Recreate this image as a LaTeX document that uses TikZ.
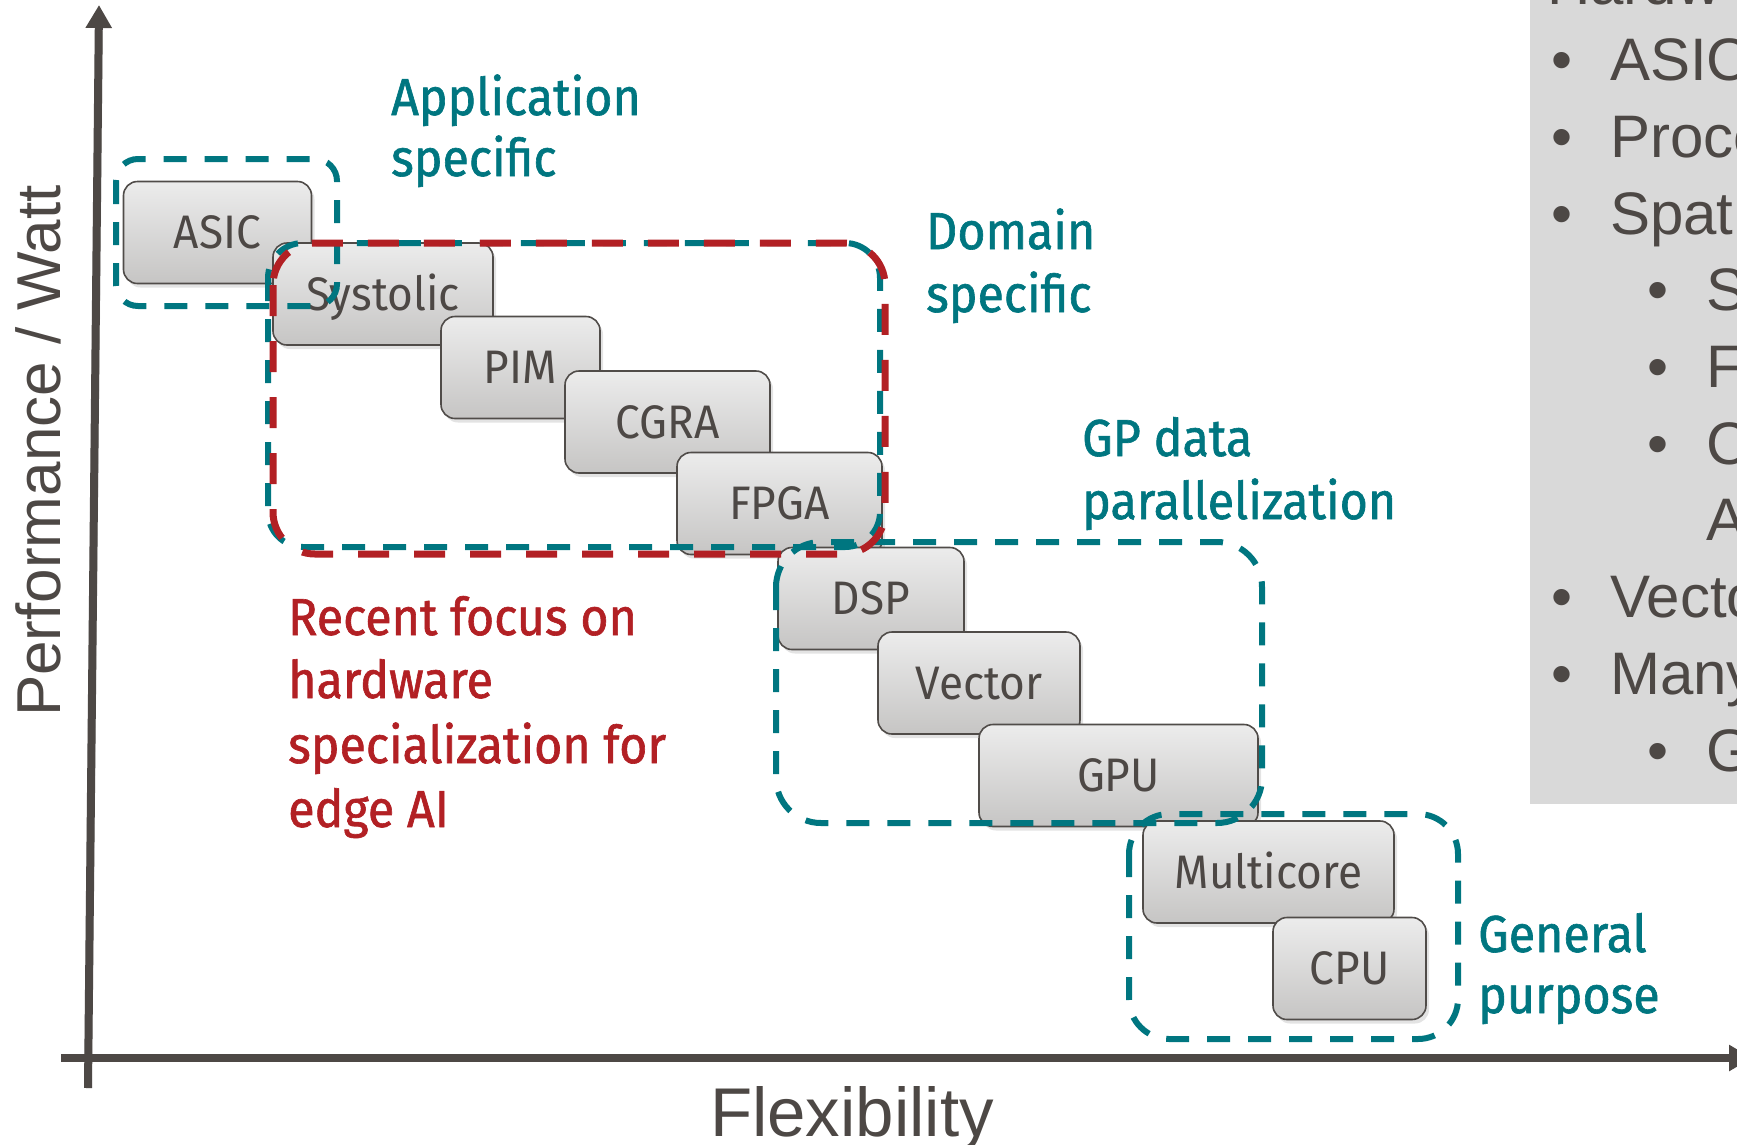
\documentclass[tikz,border=0pt]{standalone}
\usepackage{fontspec}
\setmainfont{Liberation Sans}
\newfontfamily\boxfont{Fira Sans}[FakeStretch=0.94]
\newfontfamily\labfont{Fira Sans}[FakeStretch=0.93,FakeBold=1.2]
\usetikzlibrary{arrows.meta,shadows}

\definecolor{ink}{RGB}{77,72,69}
\definecolor{boxline}{RGB}{80,76,73}
\definecolor{boxtop}{RGB}{236,236,236}
\definecolor{boxbot}{RGB}{198,197,196}
\definecolor{tealc}{RGB}{0,118,128}
\definecolor{redc}{RGB}{178,32,36}
\definecolor{panel}{RGB}{217,217,217}

\tikzset{
  hw/.style={draw=boxline, line width=1.6pt, rounded corners=14pt,
    top color=boxtop, bottom color=boxbot, text=ink,
    font=\boxfont\fontsize{47}{56}\selectfont,
    inner sep=0pt, text height=32pt, text depth=0pt, minimum height=102pt,
    drop shadow={shadow xshift=3pt, shadow yshift=-4pt, opacity=0.22}},
  grp/.style={draw=tealc, line width=6pt, dash pattern=on 23pt off 18pt,
    rounded corners=#1},
  focus/.style={draw=redc, line width=7pt, dash pattern=on 31pt off 25pt,
    rounded corners=42pt},
  axisline/.style={draw=ink, line width=8pt, -{Triangle[length=23pt,width=25pt]}},
  axisshadow/.style={draw=black, opacity=0.12, line width=8pt},
  teallab/.style={font=\labfont\fontsize{52}{62}\selectfont, text=tealc,
    anchor=base west, inner sep=0pt},
  redlab/.style={font=\labfont\fontsize{52}{62}\selectfont, text=redc,
    anchor=base west, inner sep=0pt},
  pitem/.style={font=\fontsize{60}{72}\selectfont, text=ink,
    anchor=base west, inner sep=0pt},
}

\begin{document}
\begin{tikzpicture}[x=1pt,y=-1pt]
\useasboundingbox (0,0) rectangle (1737,1144);
\clip (0,0) rectangle (1737,1144);

% side panel with the list of hardware classes
\fill[panel] (1530,-10) rectangle (1745,804);
\node[pitem] (hd) at (1547,4) {Hardw};
\node[pitem] (b1) at (1551,80) {•};
\node[pitem] (t1) at (1610,80) {ASIC};
\node[pitem] (b2) at (1551,157) {•};
\node[pitem] (t2) at (1610,157) {Proce};
\node[pitem] (b3) at (1551,234) {•};
\node[pitem] (t3) at (1610,234) {Spat};
\node[pitem] (b4) at (1647,310) {•};
\node[pitem] (t4) at (1706,310) {S};
\node[pitem] (b5) at (1647,387) {•};
\node[pitem] (t5) at (1706,387) {F};
\node[pitem] (b6) at (1647,464) {•};
\node[pitem] (t6) at (1706,464) {C};
\node[pitem] (t7) at (1706,540) {A};
\node[pitem] (b8) at (1551,617) {•};
\node[pitem] (t8) at (1610,617) {Vecto};
\node[pitem] (b9) at (1551,694) {•};
\node[pitem] (t9) at (1610,694) {Many};
\node[pitem] (b10) at (1647,771) {•};
\node[pitem] (t10) at (1706,771) {G};

% axes
\coordinate (ybot) at (88,1088);
\coordinate (ytop) at (99,5);
\coordinate (ytopsh) at (99,31);
\coordinate (xleft) at (61,1058);
\coordinate (xright) at (1752,1058);
\draw[axisshadow, xshift=2pt, yshift=-3pt] (ybot) -- (ytopsh);
\draw[axisshadow, xshift=2pt, yshift=-3pt] (xleft) -- (xright);
\draw[axisline] (ybot) -- (ytop);
\draw[axisline] (xleft) -- (xright);

\node[rotate=90, anchor=base, inner sep=0pt, text=ink,
  font=\fontsize{62}{72}\selectfont] (ylab) at (60,451) {Performance / Watt};
\node[anchor=base, inner sep=0pt, text=ink,
  font=\fontsize{69}{80}\selectfont] (xlab) at (852,1136) {Flexibility};

% hardware classes, from specialised to general
\node[hw, minimum width=188pt] (asic)  at (217.5,232.5) {ASIC};
\node[hw, minimum width=220pt] (syst)  at (383,294)     {Systolic};
\node[hw, minimum width=159pt] (pim)   at (520.5,367.5) {PIM};
\node[hw, minimum width=205pt] (cgra)  at (667.5,422)   {CGRA};
\node[hw, minimum width=205pt] (fpga)  at (779.5,503.5) {FPGA};
\node[hw, minimum width=186pt] (dsp)   at (871,598.5)   {DSP};
\node[hw, minimum width=202pt] (vec)   at (979,683)     {Vector};
\node[hw, minimum width=279pt] (gpu)   at (1118.5,775.5){GPU};
\node[hw, minimum width=251pt] (multi) at (1268.5,872)  {Multicore};
\node[hw, minimum width=153pt] (cpu)   at (1349.5,968.5){CPU};

% groupings
\draw[grp=22pt] (116,159) rectangle (337,306);
\draw[grp=35pt] (268,243) rectangle (880,547);
\draw[grp=45pt] (776,542) rectangle (1262,823);
\draw[grp=40pt] (1129,814) rectangle (1458,1039);
\draw[focus] (273,243) rectangle (885,554);

% group captions
\node[teallab] (appA) at (391,115) {Application};
\node[teallab] (appB) at (391,176) {specific};
\node[teallab] (domA) at (926,249) {Domain};
\node[teallab] (domB) at (926,312) {specific};
\node[teallab] (gpA)  at (1082,456) {GP data};
\node[teallab] (gpB)  at (1082,519) {parallelization};
\node[teallab] (genA) at (1478,952) {General};
\node[teallab] (genB) at (1478,1013) {purpose};

\node[redlab] (recA) at (288,635) {Recent focus on};
\node[redlab] (recB) at (288,698) {hardware};
\node[redlab] (recC) at (288,763) {specialization for};
\node[redlab] (recD) at (288,827) {edge AI};
\end{tikzpicture}
\end{document}
